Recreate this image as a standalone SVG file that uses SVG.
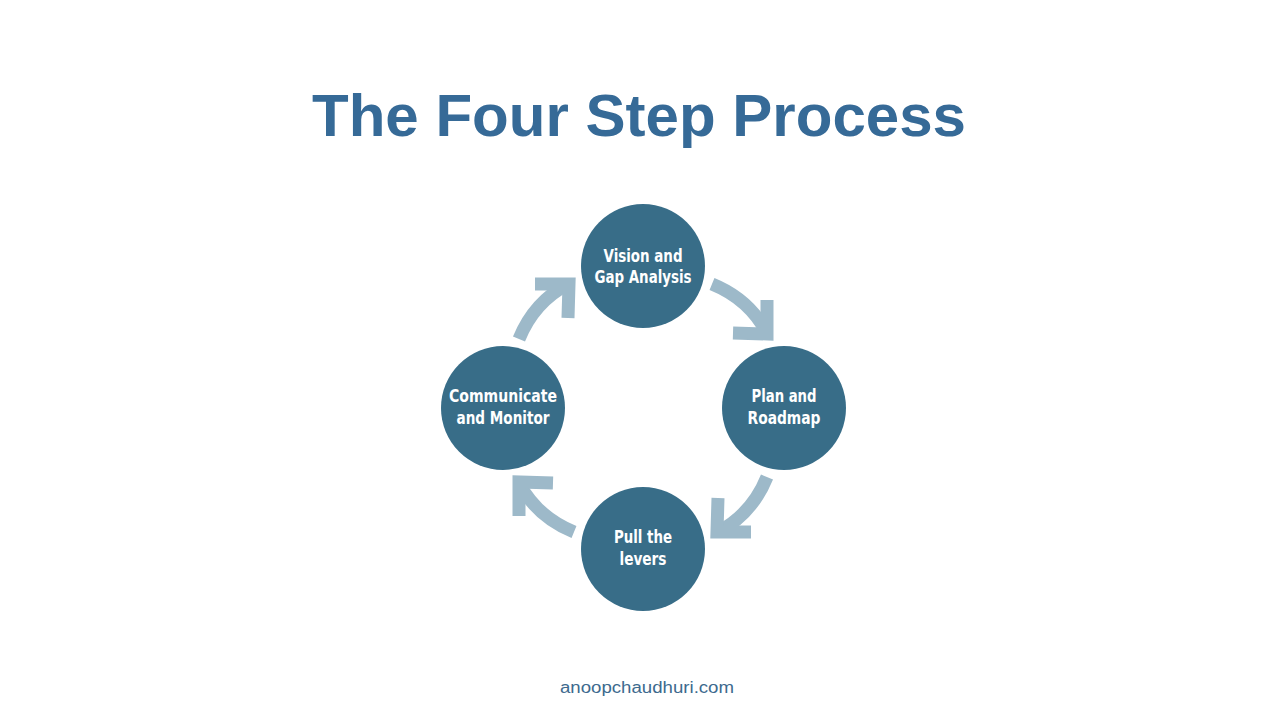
<svg xmlns="http://www.w3.org/2000/svg" width="1280" height="720" viewBox="0 0 1280 720">
  <style>
    .node { fill: #386D88; }
    .lbl { font-family: "Liberation Sans Narrow", "DejaVu Sans Condensed", "Liberation Sans", sans-serif; font-weight: bold; font-size: 18px; fill: #ffffff; text-anchor: middle; }
    .arrow { fill: none; stroke: #9DB9C9; stroke-width: 13; stroke-linecap: butt; stroke-linejoin: miter; }
  </style>
  <defs>
    <g id="arr">
      <path class="arrow" d="M 712 284 Q 749 299 767 333"/>
      <polyline class="arrow" points="733,333 767,334 767,300"/>
    </g>
  </defs>
  <rect width="1280" height="720" fill="#ffffff"/>
  <text x="639" y="136" font-family="Liberation Sans, Arial, sans-serif" font-weight="bold" font-size="60" fill="#366A97" text-anchor="middle" textLength="654" lengthAdjust="spacingAndGlyphs">The Four Step Process</text>

  <g id="connectors">
    <use href="#arr"/>
    <use href="#arr" transform="rotate(90 643 408)"/>
    <use href="#arr" transform="rotate(180 643 408)"/>
    <use href="#arr" transform="rotate(270 643 408)"/>
  </g>

  <g id="vision">
    <circle class="node" cx="643" cy="266" r="62"/>
    <text class="lbl" x="643" y="262" textLength="79" lengthAdjust="spacingAndGlyphs">Vision and</text>
    <text class="lbl" x="643" y="283" textLength="97" lengthAdjust="spacingAndGlyphs">Gap Analysis</text>
  </g>
  <g id="plan">
    <circle class="node" cx="784" cy="408" r="62"/>
    <text class="lbl" x="784" y="402" textLength="65" lengthAdjust="spacingAndGlyphs">Plan and</text>
    <text class="lbl" x="784" y="424" textLength="73" lengthAdjust="spacingAndGlyphs">Roadmap</text>
  </g>
  <g id="pull">
    <circle class="node" cx="643" cy="549" r="62"/>
    <text class="lbl" x="643" y="543" textLength="58" lengthAdjust="spacingAndGlyphs">Pull the</text>
    <text class="lbl" x="643" y="565" textLength="47" lengthAdjust="spacingAndGlyphs">levers</text>
  </g>
  <g id="communicate">
    <circle class="node" cx="503" cy="408" r="62"/>
    <text class="lbl" x="503" y="402" textLength="108" lengthAdjust="spacingAndGlyphs">Communicate</text>
    <text class="lbl" x="503" y="424" textLength="93" lengthAdjust="spacingAndGlyphs">and Monitor</text>
  </g>

  <text x="647" y="693" font-family="Liberation Sans, Arial, sans-serif" font-size="16" fill="#3D6A8E" text-anchor="middle" textLength="174" lengthAdjust="spacingAndGlyphs">anoopchaudhuri.com</text>
</svg>
